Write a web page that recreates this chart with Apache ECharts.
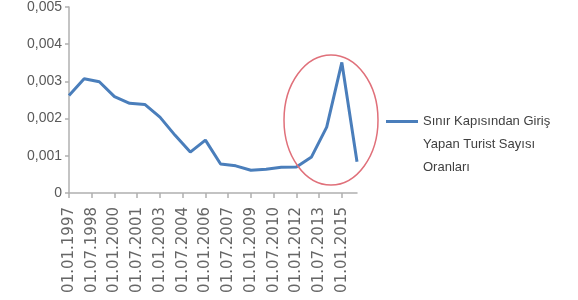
<!DOCTYPE html>
<html>
<head>
<meta charset="utf-8">
<script src="https://cdn.jsdelivr.net/npm/echarts@6/dist/echarts.min.js"></script>
<style>
    html, body { margin: 0; padding: 0; background: #fff; }
    #chart { width: 578px; height: 300px; }
</style>
</head>
<body>
<div id="chart"></div>
<script>
// yearly values, 1997 - 2016
var years = [1997, 1998, 1999, 2000, 2001, 2002, 2003, 2004, 2005, 2006,
             2007, 2008, 2009, 2010, 2011, 2012, 2013, 2014, 2015, 2016];
var ratios = [0.00262, 0.00307, 0.00299, 0.00259, 0.00241, 0.00238, 0.00204, 0.00155, 0.00110, 0.00142,
              0.00078, 0.00073, 0.00061, 0.00064, 0.00069, 0.00070, 0.00097, 0.00177, 0.00351, 0.00084];
// x tick labels every 18 months
var dateLabels = ['01.01.1997', '01.07.1998', '01.01.2000', '01.07.2001', '01.01.2003', '01.07.2004',
                  '01.01.2006', '01.07.2007', '01.01.2009', '01.07.2010', '01.01.2012', '01.07.2013', '01.01.2015'];
var yLabels = ['0', '0,001', '0,002', '0,003', '0,004', '0,005'];
var seriesName = 'Sınır Kapısından Giriş\nYapan Turist Sayısı\nOranları';

var labelStep = 1.5;
var tickValues = dateLabels.map(function (d, i) { return i * labelStep; });

var myChart = echarts.init(document.getElementById('chart'));

var option = {
    animation: false,
    grid: {
        left: 69,
        right: 221,
        top: 6,
        bottom: 107
    },
    legend: {
        left: 386,
        top: 64,
        padding: 0,
        icon: 'rect',
        itemWidth: 32,
        itemHeight: 3,
        itemGap: 0,
        data: [seriesName],
        // two empty lines on top so the icon sits beside the first line
        formatter: function (name) { return '\n\n' + name; },
        textStyle: {
            fontFamily: 'Liberation Sans',
            fontSize: 13,
            color: '#404040',
            lineHeight: 23
        }
    },
    xAxis: {
        type: 'value',
        min: 0,
        max: years[years.length - 1] - years[0],
        interval: labelStep,
        splitLine: { show: false },
        axisLine: { lineStyle: { color: '#b0b0b0', width: 1.5 } },
        axisTick: {
            customValues: tickValues,
            length: 5,
            lineStyle: { color: '#b0b0b0', width: 1.5 }
        },
        axisLabel: {
            customValues: tickValues,
            rotate: 90,
            margin: 14,
            fontFamily: 'DejaVu Sans',
            fontSize: 15,
            color: '#666666',
            formatter: function (v) {
                return dateLabels[Math.round(v / labelStep)] || '';
            }
        }
    },
    yAxis: {
        type: 'value',
        min: 0,
        max: 0.005,
        interval: 0.001,
        splitLine: { show: false },
        axisLine: { show: true, lineStyle: { color: '#b0b0b0', width: 1.5 } },
        axisTick: { show: true, length: 4, lineStyle: { color: '#b0b0b0', width: 1.5 } },
        axisLabel: {
            margin: 7,
            fontFamily: 'Liberation Sans',
            fontSize: 14,
            color: '#595959',
            formatter: function (v) {
                return yLabels[Math.round(v / 0.001)];
            }
        }
    },
    graphic: [
        {
            // red annotation ring around the recent spike
            type: 'ellipse',
            shape: { cx: 331, cy: 120, rx: 47, ry: 65 },
            style: { fill: 'none', stroke: '#e0707a', lineWidth: 1.5 },
            z: 10
        }
    ],
    series: [
        {
            name: seriesName,
            type: 'line',
            symbol: 'none',
            data: years.map(function (y, i) { return [y - years[0], ratios[i]]; }),
            lineStyle: { color: '#4a7ebb', width: 3 },
            itemStyle: { color: '#4a7ebb' }
        }
    ]
};

myChart.setOption(option);
</script>
</body>
</html>
